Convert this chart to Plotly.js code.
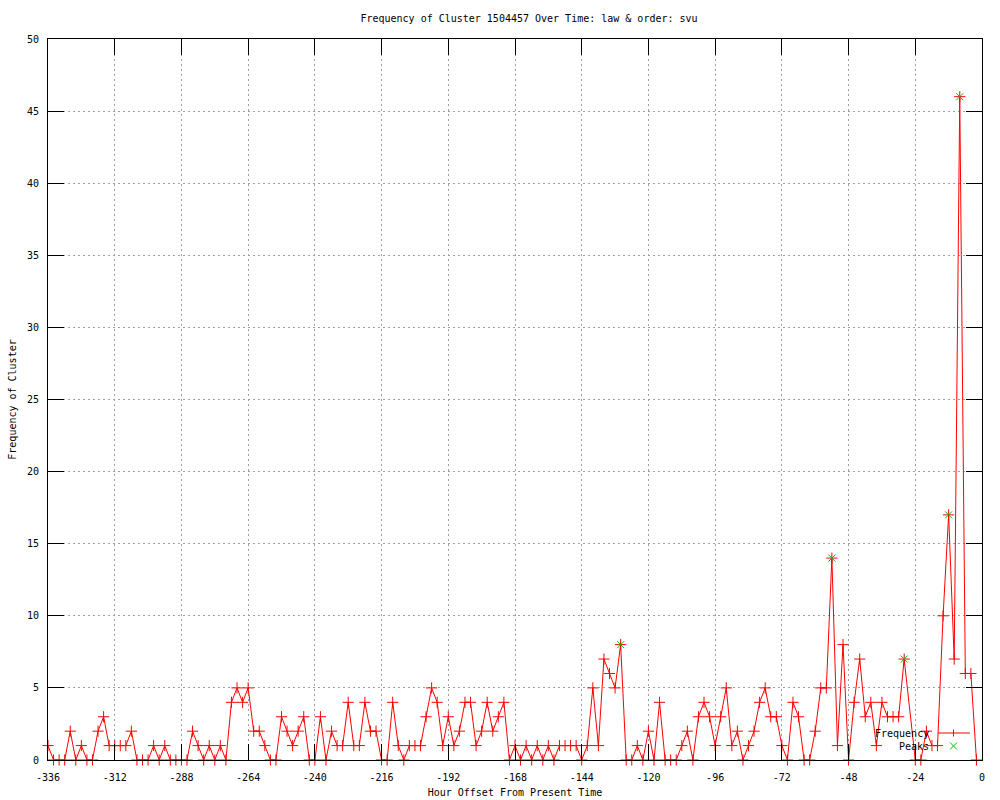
<!DOCTYPE html>
<html>
<head>
<meta charset="utf-8">
<script src="https://cdn.plot.ly/plotly-3.0.1.min.js"></script>
<style>
  html, body { margin: 0; padding: 0; background: #ffffff; }
  #chart { width: 1000px; height: 800px; }
</style>
</head>
<body>
<div id="chart"></div>
<script>
// ---- data ----
const hours = [
  -336, -334, -332, -330, -328, -326, -324, -322, -320, -318,
  -316, -314, -312, -310, -308, -306, -304, -302, -300, -298,
  -296, -294, -292, -290, -288, -286, -284, -282, -280, -278,
  -276, -274, -272, -270, -268, -266, -264, -262, -260, -258,
  -256, -254, -252, -250, -248, -246, -244, -242, -240, -238,
  -236, -234, -232, -230, -228, -226, -224, -222, -220, -218,
  -216, -214, -212, -210, -208, -206, -204, -202, -200, -198,
  -196, -194, -192, -190, -188, -186, -184, -182, -180, -178,
  -176, -174, -172, -170, -168, -166, -164, -162, -160, -158,
  -156, -154, -152, -150, -148, -146, -144, -142, -140, -138,
  -136, -134, -132, -130, -128, -126, -124, -122, -120, -118,
  -116, -114, -112, -110, -108, -106, -104, -102, -100, -98,
  -96, -94, -92, -90, -88, -86, -84, -82, -80, -78,
  -76, -74, -72, -70, -68, -66, -64, -62, -60, -58,
  -56, -54, -52, -50, -48, -46, -44, -42, -40, -38,
  -36, -34, -32, -30, -28, -24, -22, -20, -18, -16,
  -14, -12, -10, -8, -6, -4, -2
];
const frequency = [
  1, 0, 0, 0, 2, 0, 1, 0, 0, 2,
  3, 1, 1, 1, 1, 2, 0, 0, 0, 1,
  0, 1, 0, 0, 0, 0, 2, 1, 0, 1,
  0, 1, 0, 4, 5, 4, 5, 2, 2, 1,
  0, 0, 3, 2, 1, 2, 3, 0, 0, 3,
  0, 2, 1, 1, 4, 1, 1, 4, 2, 2,
  0, 0, 4, 1, 0, 1, 1, 1, 3, 5,
  4, 1, 3, 1, 2, 4, 4, 1, 2, 4,
  2, 3, 4, 0, 1, 0, 1, 0, 1, 0,
  1, 0, 1, 1, 1, 1, 0, 1, 5, 1,
  7, 6, 5, 8, 0, 0, 1, 0, 2, 0,
  4, 0, 0, 0, 1, 2, 0, 3, 4, 3,
  1, 3, 5, 1, 2, 0, 1, 2, 4, 5,
  3, 3, 1, 0, 4, 3, 0, 0, 2, 5,
  5, 14, 1, 8, 0, 4, 7, 3, 4, 1,
  4, 3, 3, 3, 7, 0, 0, 2, 1, 1,
  10, 17, 7, 46, 6, 6, 0
];
const peakHours = [-130, -54, -28, -12, -8];
const peakValues = [8, 14, 7, 17, 46];
const xTickVals = [-336, -312, -288, -264, -240, -216, -192, -168, -144, -120, -96, -72, -48, -24, 0];
const xTickText = ["-336", "-312", "-288", "-264", "-240", "-216", "-192", "-168", "-144", "-120", "-96", "-72", "-48", "-24", "0"];
const yTickVals = [0, 5, 10, 15, 20, 25, 30, 35, 40, 45, 50];
const seriesNames = ["Frequency", "Peaks"];
const titleText = "Frequency of Cluster 1504457 Over Time: law & order: svu";
const xTitle = "Hour Offset From Present Time";
const yTitle = "Frequency of Cluster";

// ---- styling ----
const FONT = "DejaVu Sans Mono, Liberation Mono, monospace";
const RED = "#ff0000";
const GREEN = "#00c000";

const traces = [
  {
    type: "scatter",
    mode: "lines+markers",
    name: seriesNames[0],
    x: hours,
    y: frequency,
    cliponaxis: false,
    line: { color: RED, width: 1 },
    marker: { symbol: "cross-thin-open", size: 8, color: RED, line: { color: RED, width: 1 } },
    showlegend: false
  },
  {
    type: "scatter",
    mode: "markers",
    name: seriesNames[1],
    x: peakHours,
    y: peakValues,
    cliponaxis: false,
    marker: { symbol: "x-thin-open", size: 7, color: GREEN, line: { color: GREEN, width: 1 } },
    showlegend: false
  }
];

// plot area in pixels: left 48, right 982, top 39, bottom 760
const L = 48, R = 982, T = 39, B = 760;
function px(xp) { return (xp - L) / (R - L); }
function py(yp) { return (B - yp) / (B - T); }

// gnuplot-style key: text then sample
const keyTextX = 931;
const keyRows = [733, 746];
const sampleX0 = 938, sampleX1 = 970, sampleMid = 953.5;
const arm = 3.5;

const shapes = [
  { type: "line", xref: "paper", yref: "paper", x0: px(sampleX0), x1: px(sampleX1), y0: py(keyRows[0]), y1: py(keyRows[0]), line: { color: RED, width: 1 } },
  { type: "line", xref: "paper", yref: "paper", x0: px(sampleMid), x1: px(sampleMid), y0: py(keyRows[0] - arm), y1: py(keyRows[0] + arm), line: { color: RED, width: 1 } },
  { type: "line", xref: "paper", yref: "paper", x0: px(sampleMid - arm), x1: px(sampleMid + arm), y0: py(keyRows[1] - arm), y1: py(keyRows[1] + arm), line: { color: GREEN, width: 1 } },
  { type: "line", xref: "paper", yref: "paper", x0: px(sampleMid - arm), x1: px(sampleMid + arm), y0: py(keyRows[1] + arm), y1: py(keyRows[1] - arm), line: { color: GREEN, width: 1 } }
];

const annotations = seriesNames.map((name, i) => ({
  xref: "paper", yref: "paper",
  x: px(keyTextX), y: py(keyRows[i]),
  xanchor: "right", yanchor: "middle",
  text: name, showarrow: false,
  font: { family: FONT, size: 10, color: "#000000" }
}));

const axisCommon = {
  showline: true, linecolor: "#000000", linewidth: 1,
  mirror: "ticks", ticks: "inside", ticklen: 16, tickwidth: 1, tickcolor: "#000000",
  showgrid: true, gridcolor: "#a0a0a0", gridwidth: 1, griddash: "2px,3px",
  zeroline: false,
  tickfont: { family: FONT, size: 10, color: "#000000" }
};

const layout = {
  width: 1000, height: 800,
  paper_bgcolor: "#ffffff", plot_bgcolor: "#ffffff",
  margin: { l: L, r: 1000 - R, t: T, b: 800 - B, pad: 0 },
  showlegend: false,
  font: { family: FONT, size: 10, color: "#000000" },
  title: {
    text: titleText,
    font: { family: FONT, size: 10, color: "#000000" },
    x: 0.515, xanchor: "center", xref: "paper",
    y: 1 - 18 / 800, yanchor: "middle", yref: "container"
  },
  xaxis: Object.assign({}, axisCommon, {
    range: [-336, 0],
    tickmode: "array", tickvals: xTickVals, ticktext: xTickText,
    ticklabelstandoff: 8,
    title: { text: xTitle, font: { family: FONT, size: 10, color: "#000000" }, standoff: 6 }
  }),
  yaxis: Object.assign({}, axisCommon, {
    range: [0, 50],
    tickmode: "array", tickvals: yTickVals,
    ticklabelstandoff: 6,
    title: { text: yTitle, font: { family: FONT, size: 10, color: "#000000" }, standoff: 8 }
  }),
  shapes: shapes,
  annotations: annotations
};

Plotly.newPlot("chart", traces, layout, { staticPlot: true, displayModeBar: false });
</script>
</body>
</html>
